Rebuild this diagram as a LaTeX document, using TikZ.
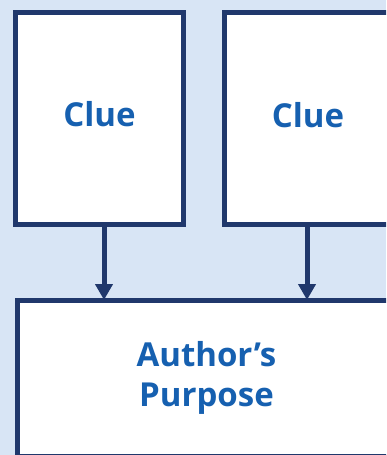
\documentclass[tikz,border=0pt]{standalone}
\usepackage{fontspec}
\setmainfont{Open Sans}
\usetikzlibrary{arrows.meta}
\definecolor{bgblue}{RGB}{216,229,245}
\definecolor{navy}{RGB}{32,56,108}
\definecolor{txtblue}{RGB}{22,96,176}
\tikzset{
  box/.style={draw=navy, line width=5pt, fill=white, inner sep=0pt, outer sep=0pt,
    font=\fontsize{33}{40}\selectfont\bfseries, text=txtblue, align=center},
  arr/.style={draw=navy, line width=5pt, -{Triangle[width=17pt,length=16pt]}}
}
\begin{document}
\begin{tikzpicture}[x=1pt,y=1pt]
\useasboundingbox (0,0) rectangle (386,-455);
\clip (0,0) rectangle (386,-455);
\fill[bgblue] (0,0) rectangle (386,-455);
\node[box, minimum width=167.5pt, minimum height=211.5pt] (clue1) at (99.5,-118.25) {\raisebox{8pt}{Clue}};
\node[box, minimum width=167pt, minimum height=212pt] (clue2) at (308,-118.5) {\raisebox{8pt}{Clue}};
\node[box, minimum width=378pt, minimum height=156pt] (purpose) at (206.5,-378) {Author’s\\Purpose};
\coordinate (a1) at ([xshift=4.5pt]clue1.south);
\coordinate (a2) at ([xshift=-1pt]clue2.south);
\draw[arr] (a1) -- (a1 |- purpose.north);
\draw[arr] (a2) -- (a2 |- purpose.north);
\end{tikzpicture}
\end{document}
